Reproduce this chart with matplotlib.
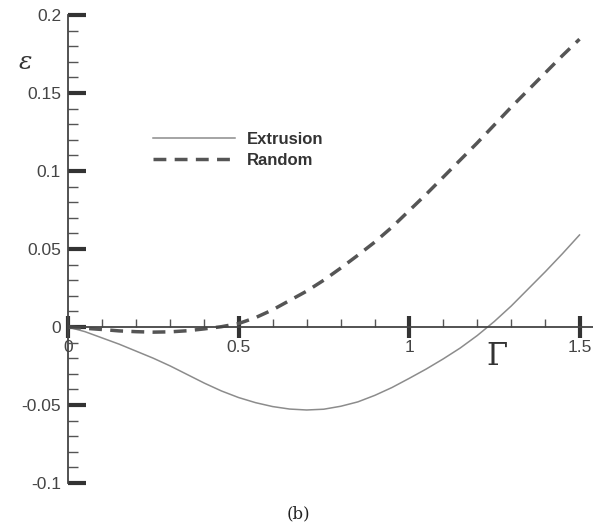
import numpy as np
import matplotlib
matplotlib.use('Agg')
import matplotlib.pyplot as plt
from matplotlib.ticker import MultipleLocator, FixedLocator

matplotlib.rcParams['font.family'] = ['Liberation Sans', 'DejaVu Sans']
matplotlib.rcParams['mathtext.fontset'] = 'dejavuserif'

# values
gamma = [0, 0.05, 0.1, 0.15, 0.2, 0.25, 0.3, 0.35, 0.4, 0.45, 0.5, 0.55, 0.6, 0.65,
         0.7, 0.75, 0.8, 0.85, 0.9, 0.95, 1.0, 1.05, 1.1, 1.15, 1.2, 1.25, 1.3,
         1.35, 1.4, 1.45, 1.5]
extrusion = [0, -0.003, -0.007, -0.011, -0.0155, -0.020, -0.025, -0.0305, -0.036,
             -0.041, -0.0452, -0.0485, -0.051, -0.0526, -0.0532, -0.0527, -0.0508,
             -0.048, -0.0438, -0.0388, -0.033, -0.027, -0.0205, -0.0135, -0.0055,
             0.0035, 0.0135, 0.0245, 0.0355, 0.047, 0.059]
random_ = [0, -0.0008, -0.0016, -0.0025, -0.003, -0.0033, -0.0031, -0.0024, -0.0012,
           0.0002, 0.0022, 0.006, 0.011, 0.017, 0.023, 0.030, 0.0378, 0.046, 0.0545,
           0.064, 0.0745, 0.085, 0.096, 0.107, 0.118, 0.1295, 0.141, 0.152, 0.163,
           0.174, 0.1845]
xticks = [0, 0.5, 1, 1.5]
xticklabels = ['0', '0.5', '1', '1.5']
yticks = [-0.1, -0.05, 0, 0.05, 0.1, 0.15, 0.2]
yticklabels = ['-0.1', '-0.05', '0', '0.05', '0.1', '0.15', '0.2']

fig = plt.figure(figsize=(5.93, 5.27), dpi=100)
ax = fig.add_axes([68/593, 1-483/527, 1-68/593, (483-15)/527])

ax.plot(gamma, extrusion, color='#8c8c8c', lw=1.1, label='Extrusion')
ax.plot(gamma, random_, color='#555555', lw=2.5, linestyle=(0, (3.7, 2.4)), label='Random')

ax.set_xlim(0, (593-68)/341)
ax.set_ylim(-0.1, 0.2)

ax.spines['top'].set_visible(False)
ax.spines['right'].set_visible(False)
ax.spines['bottom'].set_position(('data', 0))
ax.spines['left'].set_color('#444444')
ax.spines['bottom'].set_color('#444444')
ax.spines['left'].set_linewidth(1.3)
ax.spines['bottom'].set_linewidth(1.3)

ax.xaxis.set_major_locator(FixedLocator(xticks))
ax.set_xticklabels(xticklabels)
ax.xaxis.set_minor_locator(MultipleLocator(0.1))
ax.yaxis.set_major_locator(FixedLocator(yticks))
ax.set_yticklabels(yticklabels)
ax.yaxis.set_minor_locator(MultipleLocator(0.01))

ax.tick_params(axis='x', which='major', direction='inout', length=16, width=3,
               color='#333333', labelsize=12.5, labelcolor='#444444', pad=1)
ax.tick_params(axis='x', which='minor', direction='in', length=6, width=1, color='#555555')
ax.tick_params(axis='y', which='major', direction='in', length=13, width=3,
               color='#333333', labelsize=12.5, labelcolor='#444444', pad=5)
ax.tick_params(axis='y', which='minor', direction='in', length=7, width=1, color='#555555')

fig.text(18/593, 1-62/527, r'$\varepsilon$', fontsize=18, color='#333333',
         ha='left', va='center')
fig.text(497/593, 1-357/527, r'$\Gamma$', fontsize=22, color='#333333',
         ha='center', va='center')
fig.text(298/593, 1-514/527, '(b)', fontsize=12, family='DejaVu Serif',
         color='#222222', ha='center', va='center')

leg = ax.legend(loc='upper left', bbox_to_anchor=(145/593, 1-124/527),
                bbox_transform=fig.transFigure, frameon=False, handlelength=4.9,
                handletextpad=0.7, labelspacing=0.35, borderpad=0,
                prop={'size': 12, 'weight': 'bold'})
for t in leg.get_texts():
    t.set_color('#333333')

plt.savefig('out.png', dpi=100)
